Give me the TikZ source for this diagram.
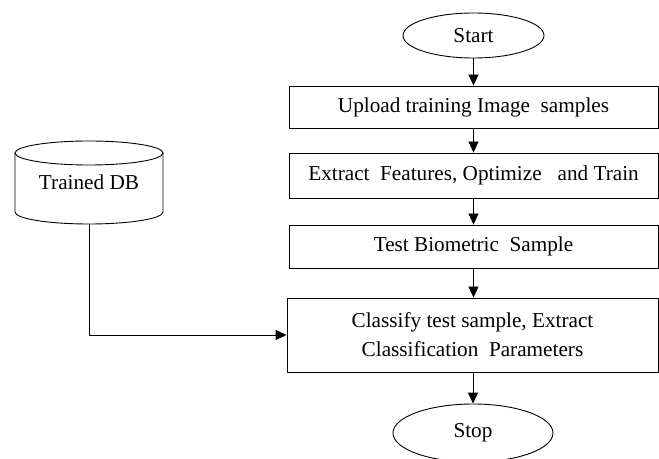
\documentclass[tikz,border=0pt]{standalone}
\usepackage{fontspec}
\setmainfont{Liberation Serif}
\usetikzlibrary{arrows.meta,shapes.geometric}
\begin{document}
\begin{tikzpicture}[x=1bp,y=-1bp,
  lw/.style={line width=0.9bp},
  txt/.style={font=\fontsize{21.3}{29}\selectfont},
  box/.style={draw, lw, txt, minimum width=369bp, inner sep=0pt, align=center},
  term/.style={draw, lw, txt, ellipse, inner sep=0pt},
  arr/.style={lw, -{Triangle[length=11bp,width=10bp]}}]
\useasboundingbox (0,0) rectangle (659,459);
\node[term, minimum width=141bp, minimum height=45bp] (start) at (473.5,35.5) {Start};
\node[box, minimum height=42bp] (upload) at (473.5,107) {Upload training Image\ \ samples};
\node[box, minimum height=45bp] (extract) at (473.5,175.5) {Extract\ \ Features, Optimize\ \ \ and Train};
\node[box, minimum height=43bp] (test) at (473.5,246.5) {Test Biometric\ \ Sample};
\node[box, minimum width=371bp, minimum height=74bp] (classify) at (472.5,335) {Classify test sample, Extract\\Classification\ \ Parameters};
\node[term, minimum width=160bp, minimum height=58bp] (stop) at (473,433) {Stop};
% Trained DB cylinder
\node[txt, minimum width=148bp, minimum height=83bp, inner sep=0pt] (db) at (89,182.5) {Trained DB};
\draw[lw] (89,153) ellipse[x radius=74bp, y radius=12bp];
\draw[lw] (15,153) -- (15,212) arc[start angle=180, end angle=360, x radius=74bp, y radius=12bp] -- (163,153);
% connectors
\draw[arr] (start.south) -- (start.south |- upload.north);
\draw[arr] (upload.south) -- (upload.south |- extract.north);
\draw[arr] (extract.south) -- (extract.south |- test.north);
\draw[arr] (test.south) -- (test.south |- classify.north);
\draw[arr] (classify.south -| stop.north) -- (stop.north);
\draw[arr] (db.south) |- (classify.west);
\end{tikzpicture}
\end{document}
